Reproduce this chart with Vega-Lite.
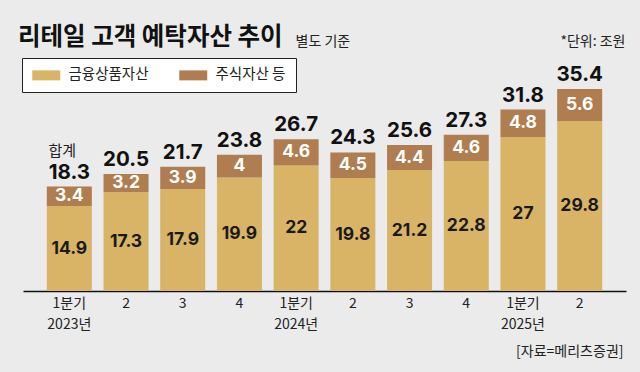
{
  "$schema": "https://vega.github.io/schema/vega-lite/v6.json",
  "width": 603,
  "height": 231,
  "autosize": {"type": "none"},
  "padding": {"left": 23, "top": 60, "right": 14, "bottom": 81},
  "background": "#EBEBEB",
  "config": {"view": {"stroke": null}, "font": "Noto Sans CJK KR"},
  "title": {"text": "리테일 고객 예탁자산 추이", "anchor": "start", "frame": "group", "fontSize": 24.5, "fontWeight": "bold", "color": "#111111", "font": "Noto Sans CJK KR", "dx": -5, "offset": 4, "dy": 39, "baseline": "alphabetic"},
  "data": {"values": [
    {"q": "2023-1", "type": "금융상품자산", "v": 14.9, "total": 18.3},
    {"q": "2023-1", "type": "주식자산 등", "v": 3.4, "total": 18.3},
    {"q": "2023-2", "type": "금융상품자산", "v": 17.3, "total": 20.5},
    {"q": "2023-2", "type": "주식자산 등", "v": 3.2, "total": 20.5},
    {"q": "2023-3", "type": "금융상품자산", "v": 17.9, "total": 21.7},
    {"q": "2023-3", "type": "주식자산 등", "v": 3.9, "total": 21.7},
    {"q": "2023-4", "type": "금융상품자산", "v": 19.9, "total": 23.8},
    {"q": "2023-4", "type": "주식자산 등", "v": 4, "total": 23.8},
    {"q": "2024-1", "type": "금융상품자산", "v": 22, "total": 26.7},
    {"q": "2024-1", "type": "주식자산 등", "v": 4.6, "total": 26.7},
    {"q": "2024-2", "type": "금융상품자산", "v": 19.8, "total": 24.3},
    {"q": "2024-2", "type": "주식자산 등", "v": 4.5, "total": 24.3},
    {"q": "2024-3", "type": "금융상품자산", "v": 21.2, "total": 25.6},
    {"q": "2024-3", "type": "주식자산 등", "v": 4.4, "total": 25.6},
    {"q": "2024-4", "type": "금융상품자산", "v": 22.8, "total": 27.3},
    {"q": "2024-4", "type": "주식자산 등", "v": 4.6, "total": 27.3},
    {"q": "2025-1", "type": "금융상품자산", "v": 27, "total": 31.8},
    {"q": "2025-1", "type": "주식자산 등", "v": 4.8, "total": 31.8},
    {"q": "2025-2", "type": "금융상품자산", "v": 29.8, "total": 35.4},
    {"q": "2025-2", "type": "주식자산 등", "v": 5.6, "total": 35.4}
  ]},
  "layer": [
    {
      "mark": {"type": "bar"},
      "encoding": {
        "x": {"field": "q", "type": "nominal", "sort": null,
          "scale": {"domain": ["2023-1","2023-2","2023-3","2023-4","2024-1","2024-2","2024-3","2024-4","2025-1","2025-2"], "paddingInner": 0.206, "paddingOuter": 0.42},
          "axis": {"title": "[자료=메리츠증권]", "titleAnchor": "end", "titleAlign": "right", "titleX": 600, "titleY": 60, "titleBaseline": "middle", "titleFontSize": 14, "titleFontWeight": "normal", "titleColor": "#222222", "titleFont": "Noto Sans CJK KR",
            "labelExpr": "slice(datum.value, 5) == '1' ? ['1분기', slice(datum.value, 0, 4) + '년'] : slice(datum.value, 5)",
            "labelFontSize": 14, "labelLineHeight": 21, "labelColor": "#222222", "labelPadding": 5, "labelAngle": 0, "labelBaseline": "top", "labelFont": "Noto Sans CJK KR",
            "ticks": false, "domainColor": "#111111", "domainWidth": 1.5, "grid": false}},
        "y": {"field": "v", "type": "quantitative", "scale": {"domain": [0, 40.5], "nice": false, "zero": true},
          "axis": {"title": "별도 기준", "labels": false, "ticks": false, "domain": false, "grid": false, "titleAngle": 0, "titleAlign": "left", "titleBaseline": "alphabetic", "titleX": 272, "titleY": -15, "titleFontSize": 14, "titleFontWeight": "normal", "titleColor": "#222222", "titleFont": "Noto Sans CJK KR"}},
        "order": {"field": "type", "type": "ordinal", "sort": "ascending"},
        "color": {"field": "type", "type": "nominal",
          "scale": {"domain": ["금융상품자산", "주식자산 등"], "range": ["#D9B466", "#B07D50"]},
          "legend": {"title": null, "orient": "none", "legendX": -1, "legendY": -2, "direction": "horizontal", "fillColor": "#ffffff", "strokeColor": "#222222", "padding": 10, "symbolType": "M-1,-0.714H3V0.714H-1Z", "symbolSize": 196, "symbolStrokeWidth": 0, "symbolOpacity": 1, "labelFontSize": 14.5, "labelOffset": 22, "columnPadding": 30, "labelColor": "#222222", "labelFont": "Noto Sans CJK KR"}}
      }
    },
    {
      "transform": [
        {"stack": "v", "groupby": ["q"], "sort": [{"field": "type", "order": "ascending"}], "as": ["v0", "v1"]},
        {"fold": ["v0", "v1"], "as": ["k", "pos"]},
        {"filter": "datum.type === '금융상품자산'"}
      ],
      "mark": {"type": "text", "font": "Inter", "fontSize": 17.5, "fontWeight": "bold", "color": "#1a1a1a", "baseline": "middle"},
      "encoding": {
        "x": {"field": "q", "type": "nominal", "sort": null},
        "y": {"aggregate": "mean", "field": "pos", "type": "quantitative", "axis": null},
        "text": {"field": "v", "type": "nominal"}
      }
    },
    {
      "transform": [
        {"stack": "v", "groupby": ["q"], "sort": [{"field": "type", "order": "ascending"}], "as": ["v0", "v1"]},
        {"fold": ["v0", "v1"], "as": ["k", "pos"]},
        {"filter": "datum.type === '주식자산 등'"}
      ],
      "mark": {"type": "text", "font": "Inter", "fontSize": 17.5, "fontWeight": "bold", "color": "#ffffff", "baseline": "middle"},
      "encoding": {
        "x": {"field": "q", "type": "nominal", "sort": null},
        "y": {"aggregate": "mean", "field": "pos", "type": "quantitative", "axis": null},
        "text": {"field": "v", "type": "nominal"}
      }
    },
    {
      "transform": [
        {"stack": "v", "groupby": ["q"], "sort": [{"field": "type", "order": "ascending"}], "as": ["v0", "v1"]},
        {"filter": "datum.type === '주식자산 등'"}
      ],
      "mark": {"type": "text", "font": "Inter", "fontSize": 20.5, "fontWeight": "bold", "color": "#111111", "baseline": "alphabetic", "dy": -8},
      "encoding": {
        "x": {"field": "q", "type": "nominal", "sort": null},
        "y": {"field": "v1", "type": "quantitative",
          "axis": {"orient": "right", "title": "*단위: 조원", "labels": false, "ticks": false, "domain": false, "grid": false, "titleAngle": 0, "titleAlign": "right", "titleBaseline": "alphabetic", "titleX": -1, "titleY": -15, "titleFontSize": 14, "titleFontWeight": "normal", "titleColor": "#222222", "titleFont": "Noto Sans CJK KR"}},
        "text": {"field": "total", "type": "nominal"}
      }
    },
    {
      "transform": [
        {"stack": "v", "groupby": ["q"], "sort": [{"field": "type", "order": "ascending"}], "as": ["v0", "v1"]},
        {"filter": "datum.type === '주식자산 등' && datum.q === '2023-1'"}
      ],
      "mark": {"type": "text", "font": "Noto Sans CJK KR", "fontSize": 15, "color": "#222222", "baseline": "alphabetic", "dy": -31, "dx": -7},
      "encoding": {
        "x": {"field": "q", "type": "nominal", "sort": null},
        "y": {"field": "v1", "type": "quantitative", "axis": null},
        "text": {"value": "합계"}
      }
    }
  ],
  "resolve": {"axis": {"y": "independent"}}
}
